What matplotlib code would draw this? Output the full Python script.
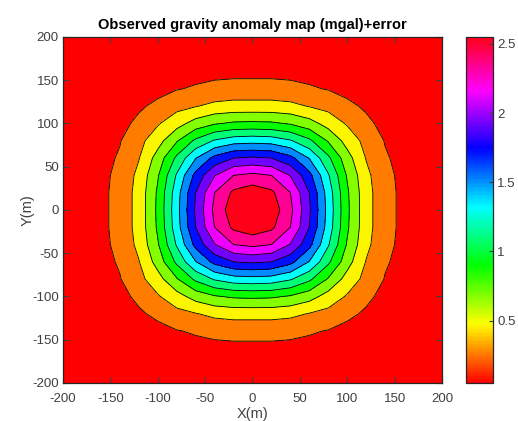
import numpy as np
import matplotlib
matplotlib.use("Agg")
import matplotlib.pyplot as plt
from matplotlib.colors import Normalize
from matplotlib.cm import ScalarMappable

plt.rcParams['font.family'] = ['Liberation Sans', 'DejaVu Sans']
plt.rcParams['axes.unicode_minus'] = False

# Grid coordinates (m)
x_coords = [-200, -180, -160, -140, -120, -100, -80, -60, -40, -20, 0,
            20, 40, 60, 80, 100, 120, 140, 160, 180, 200]
y_coords = [-200, -180, -160, -140, -120, -100, -80, -60, -40, -20, 0,
            20, 40, 60, 80, 100, 120, 140, 160, 180, 200]

# Observed gravity anomaly (mgal), rows = y from -200 to 200, cols = x from -200 to 200
gravity = [
    [0.05,0.06,0.07,0.08,0.08,0.09,0.09,0.10,0.10,0.10,0.10,0.10,0.10,0.10,0.09,0.09,0.08,0.08,0.07,0.06,0.05],
    [0.06,0.07,0.08,0.09,0.10,0.11,0.11,0.12,0.12,0.12,0.12,0.12,0.12,0.12,0.11,0.11,0.10,0.09,0.08,0.07,0.06],
    [0.07,0.08,0.09,0.11,0.12,0.13,0.14,0.14,0.15,0.15,0.15,0.15,0.15,0.14,0.14,0.13,0.12,0.11,0.09,0.08,0.07],
    [0.08,0.09,0.11,0.12,0.14,0.16,0.19,0.22,0.25,0.27,0.27,0.27,0.25,0.22,0.19,0.16,0.14,0.12,0.11,0.09,0.08],
    [0.08,0.10,0.12,0.14,0.18,0.23,0.34,0.39,0.45,0.47,0.47,0.47,0.45,0.39,0.34,0.23,0.18,0.14,0.12,0.10,0.08],
    [0.09,0.11,0.13,0.16,0.23,0.38,0.52,0.68,0.78,0.83,0.84,0.83,0.78,0.68,0.52,0.38,0.23,0.16,0.13,0.11,0.09],
    [0.09,0.11,0.14,0.19,0.34,0.52,0.78,1.04,1.22,1.31,1.33,1.31,1.22,1.04,0.78,0.52,0.34,0.19,0.14,0.11,0.09],
    [0.10,0.12,0.14,0.22,0.39,0.68,1.04,1.39,1.66,1.80,1.83,1.80,1.66,1.39,1.04,0.68,0.39,0.22,0.14,0.12,0.10],
    [0.10,0.12,0.15,0.25,0.45,0.78,1.22,1.66,1.99,2.20,2.25,2.20,1.99,1.66,1.22,0.78,0.45,0.25,0.15,0.12,0.10],
    [0.10,0.12,0.15,0.27,0.47,0.83,1.31,1.80,2.20,2.44,2.52,2.44,2.20,1.80,1.31,0.83,0.47,0.27,0.15,0.12,0.10],
    [0.10,0.12,0.15,0.27,0.47,0.84,1.33,1.83,2.25,2.52,2.56,2.52,2.25,1.83,1.33,0.84,0.47,0.27,0.15,0.12,0.10],
    [0.10,0.12,0.15,0.27,0.47,0.83,1.31,1.80,2.20,2.44,2.52,2.44,2.20,1.80,1.31,0.83,0.47,0.27,0.15,0.12,0.10],
    [0.10,0.12,0.15,0.25,0.45,0.78,1.22,1.66,1.99,2.20,2.25,2.20,1.99,1.66,1.22,0.78,0.45,0.25,0.15,0.12,0.10],
    [0.10,0.12,0.14,0.22,0.39,0.68,1.04,1.39,1.66,1.80,1.83,1.80,1.66,1.39,1.04,0.68,0.39,0.22,0.14,0.12,0.10],
    [0.09,0.11,0.14,0.19,0.34,0.52,0.78,1.04,1.22,1.31,1.33,1.31,1.22,1.04,0.78,0.52,0.34,0.19,0.14,0.11,0.09],
    [0.09,0.11,0.13,0.16,0.23,0.38,0.52,0.68,0.78,0.83,0.84,0.83,0.78,0.68,0.52,0.38,0.23,0.16,0.13,0.11,0.09],
    [0.08,0.10,0.12,0.14,0.18,0.23,0.34,0.39,0.45,0.47,0.47,0.47,0.45,0.39,0.34,0.23,0.18,0.14,0.12,0.10,0.08],
    [0.08,0.09,0.11,0.12,0.14,0.16,0.19,0.22,0.25,0.27,0.27,0.27,0.25,0.22,0.19,0.16,0.14,0.12,0.11,0.09,0.08],
    [0.07,0.08,0.09,0.11,0.12,0.13,0.14,0.14,0.15,0.15,0.15,0.15,0.15,0.14,0.14,0.13,0.12,0.11,0.09,0.08,0.07],
    [0.06,0.07,0.08,0.09,0.10,0.11,0.11,0.12,0.12,0.12,0.12,0.12,0.12,0.12,0.11,0.11,0.10,0.09,0.08,0.07,0.06],
    [0.05,0.06,0.07,0.08,0.08,0.09,0.09,0.10,0.10,0.10,0.10,0.10,0.10,0.10,0.09,0.09,0.08,0.08,0.07,0.06,0.05],
]

contour_levels = [0.2, 0.4, 0.6, 0.8, 1.0, 1.2, 1.4, 1.6, 1.8, 2.0, 2.2, 2.4]
cbar_ticks = [0.5, 1, 1.5, 2, 2.5]
cbar_ticklabels = ['0.5', '1', '1.5', '2', '2.5']
axis_ticks = [-200, -150, -100, -50, 0, 50, 100, 150, 200]
cmin, cmax = 0.05, 2.55

X, Y = np.meshgrid(x_coords, y_coords)
Z = np.array(gravity)

fig = plt.figure(figsize=(5.18, 4.21), dpi=100)
ax = fig.add_axes([0.1216, 0.0903, 0.7316, 0.822])
cax = fig.add_axes([0.8996, 0.0903, 0.0521, 0.822])

cmap = plt.get_cmap('hsv')
n_bands = len(contour_levels) + 1
band_colors = [cmap(k / (n_bands - 1)) for k in range(n_bands)]
fill_levels = [Z.min() - 1] + contour_levels + [Z.max() + 1]
ax.contourf(X, Y, Z, levels=fill_levels, colors=band_colors)
ax.contour(X, Y, Z, levels=contour_levels, colors='k', linewidths=0.6)

ax.set_xlim(-200, 200)
ax.set_ylim(-200, 200)
ax.set_xticks(axis_ticks)
ax.set_yticks(axis_ticks)
gray = '#404040'
ax.tick_params(direction='in', length=4, width=0.8, top=True, right=True,
               labelsize=9.5, colors=gray)
ax.tick_params(axis='x', pad=7)
ax.tick_params(axis='y', pad=3)
for s in ax.spines.values():
    s.set_color('#262626')
    s.set_linewidth(0.9)
ax.set_title('Observed gravity anomaly map (mgal)+error', fontsize=10.5,
             fontweight='bold', pad=6)
ax.set_xlabel('X(m)', fontsize=10.5, color=gray, labelpad=1.5)
ax.set_ylabel('Y(m)', fontsize=10.5, color=gray, labelpad=-2)

sm = ScalarMappable(norm=Normalize(cmin, cmax), cmap=cmap)
cb = fig.colorbar(sm, cax=cax, ticks=cbar_ticks)
cb.set_ticklabels(cbar_ticklabels)
cb.ax.tick_params(direction='in', length=3, width=0.8, labelsize=9.5,
                  colors=gray, pad=3)
cb.outline.set_edgecolor('#262626')
cb.outline.set_linewidth(0.9)

fig.savefig('out.png', dpi=100)
